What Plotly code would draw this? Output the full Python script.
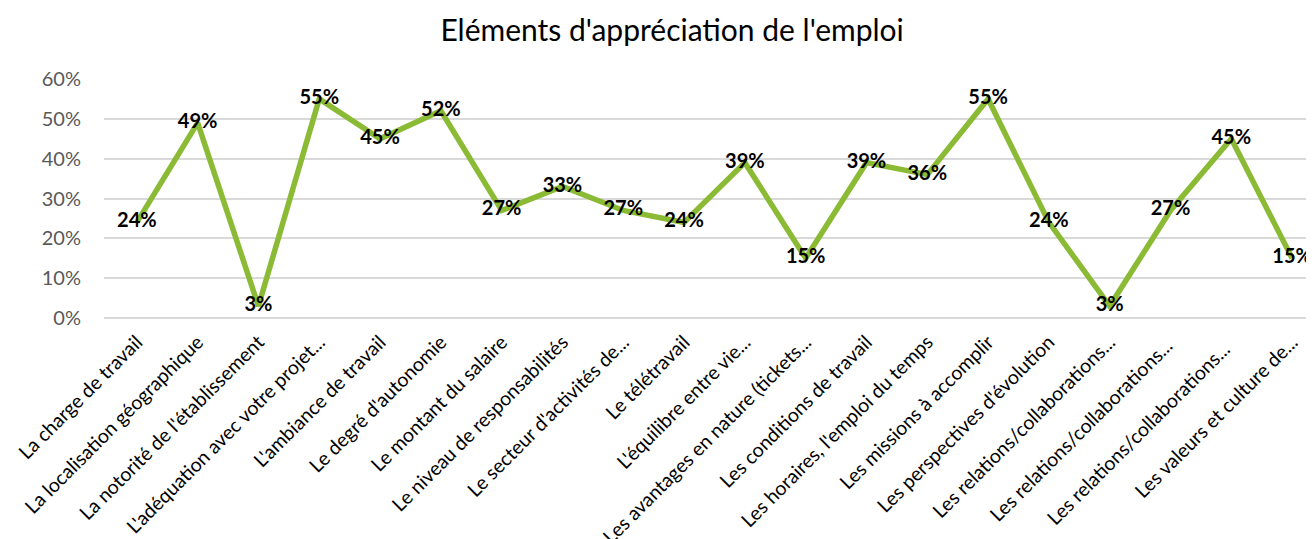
import plotly.graph_objects as go

categories = [
    "La charge de travail",
    "La localisation géographique",
    "La notorité de l'établissement",
    "L'adéquation avec votre projet...",
    "L'ambiance de travail",
    "Le degré d'autonomie",
    "Le montant du salaire",
    "Le niveau de responsabilités",
    "Le secteur d'activités de...",
    "Le télétravail",
    "L'équilibre entre vie...",
    "Les avantages en nature (tickets...",
    "Les conditions de travail",
    "Les horaires, l'emploi du temps",
    "Les missions à accomplir",
    "Les perspectives d'évolution",
    "Les relations/collaborations...",
    "Les relations/collaborations... ",
    "Les relations/collaborations...  ",
    "Les valeurs et culture de...",
]
values = [0.24, 0.49, 0.03, 0.55, 0.45, 0.52, 0.27, 0.33, 0.27, 0.24,
          0.39, 0.15, 0.39, 0.36, 0.55, 0.24, 0.03, 0.27, 0.45, 0.15]
value_labels = [f"{round(v*100)}%" for v in values]

FONT = "Lato, Carlito, Calibri, sans-serif"
W, H = 1306, 531

fig = go.Figure()
fig.add_trace(go.Scatter(
    x=categories, y=values,
    mode="lines+text",
    line=dict(color="#8BBA35", width=5.5),
    text=value_labels,
    textposition="middle center",
    textfont=dict(family=FONT, size=20, color="#000000", weight="bold"),
    cliponaxis=False,
    hoverinfo="skip",
))

fig.update_layout(
    width=W, height=H,
    margin=dict(l=96, r=0, t=71, b=221),
    paper_bgcolor="white", plot_bgcolor="white",
    showlegend=False,
    title=dict(text="Eléments d'appréciation de l'emploi",
               x=0.5085, xanchor="center", y=1 - 22/H, yanchor="middle",
               yref="container",
               font=dict(family=FONT, size=30, color="#000000")),
    font=dict(family=FONT),
)
fig.update_xaxes(
    type="category",
    range=[-0.54, 19.36],
    tickangle=-45,
    tickfont=dict(family=FONT, size=19.5, color="#000000"),
    showgrid=False, showline=False, zeroline=False,
    ticks="", ticklabelstandoff=8, automargin=False,
)
fig.update_yaxes(
    range=[0, 0.6], dtick=0.1, tickformat=".0%",
    tickfont=dict(family=FONT, size=20, color="#595959"),
    showgrid=True, gridcolor="#D9D9D9", gridwidth=1.5,
    zeroline=True, zerolinecolor="#D9D9D9", zerolinewidth=1.5,
    showline=False, ticks="", ticklabelstandoff=22, automargin=False,
)

fig.write_html("out.html")
